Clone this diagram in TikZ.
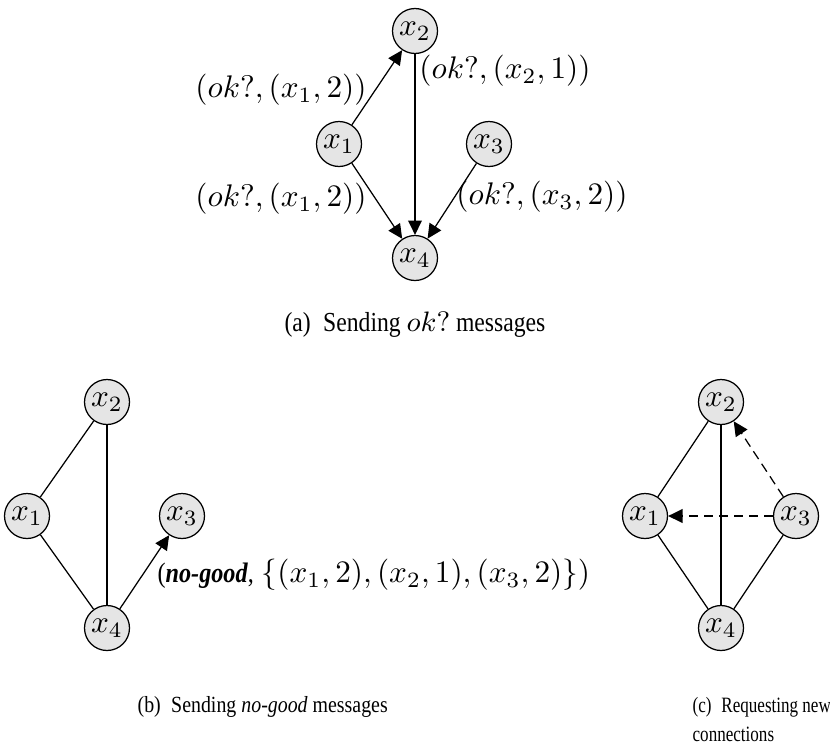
\documentclass[tikz,border=0pt]{standalone}
\usepackage{fontspec}
\setmainfont{Liberation Serif}
\newfontfamily\capfont[FakeStretch=0.86]{Liberation Serif}
\newfontfamily\capnarrow[FakeStretch=0.78]{Liberation Serif}
\usetikzlibrary{arrows.meta}
\newcommand{\capgap}{\hspace{0.45em}}
\begin{document}
\begin{tikzpicture}[x=0.32pt,y=-0.32pt,
  var/.style={circle,draw=black,fill=black!10,minimum size=14.4pt,inner sep=0pt,line width=0.4pt},
  link/.style={line width=0.4pt},
  msg/.style={link,-{Triangle[length=4.6pt,width=4.4pt]}},
  req/.style={msg,dash pattern=on 3pt off 1.8pt},
  lbl/.style={inner sep=0pt},
  subcap/.style={inner sep=0pt,font=\capfont\fontsize{7.4}{9.2}\selectfont}]
\useasboundingbox (0,0) rectangle (830,749);

% (a) ok? messages
\node[var] (a2) at (415,31)  {$x_2$};
\node[var] (a1) at (339,144) {$x_1$};
\node[var] (a3) at (489,144) {$x_3$};
\node[var] (a4) at (415,258) {$x_4$};
\draw[msg] (a1) -- (a2);
\draw[msg] (a1) -- (a4);
\draw[msg] (a2) -- (a4);
\draw[msg] (a3) -- (a4);
\node[lbl] (la12) at (281,90)  {$(ok?,(x_1,2))$};
\node[lbl] (la21) at (505,71)  {$(ok?,(x_2,1))$};
\node[lbl] (la14) at (281,199) {$(ok?,(x_1,2))$};
\node[lbl] (la34) at (542,197) {$(ok?,(x_3,2))$};
\node[subcap,font=\capfont\fontsize{8.8}{10}\selectfont] (capa) at (415,325) {(a)\capgap Sending $ok?$ messages};

% (b) no-good messages
\node[var] (b2) at (107,402) {$x_2$};
\node[var] (b1) at (27,516)  {$x_1$};
\node[var] (b3) at (182,516) {$x_3$};
\node[var] (b4) at (107,628) {$x_4$};
\draw[link] (b1) -- (b2);
\draw[link] (b1) -- (b4);
\draw[link] (b2) -- (b4);
\draw[msg] (b4) -- (b3);
\node[lbl,anchor=west] (lb43) at (157,575)
  {{\capfont\fontsize{9}{10}\selectfont(\textbf{\textit{no-good}},} $\{(x_1,2),(x_2,1),(x_3,2)\})$};
\node[subcap,anchor=west] (capb) at (137,707) {(b)\capgap Sending \textit{no-good} messages};

% (c) requesting new connections
\node[var] (c2) at (721,402) {$x_2$};
\node[var] (c1) at (645,516) {$x_1$};
\node[var] (c3) at (796,516) {$x_3$};
\node[var] (c4) at (721,628) {$x_4$};
\draw[link] (c1) -- (c2);
\draw[link] (c1) -- (c4);
\draw[link] (c2) -- (c4);
\draw[link] (c3) -- (c4);
\draw[req] (c3) -- (c2);
\draw[req] (c3) -- (c1);
\node[subcap,font=\capnarrow\fontsize{7}{9.2}\selectfont,anchor=north west,align=left] (capc) at (692,697) {(c)\capgap Requesting new\\connections};
\end{tikzpicture}
\end{document}
